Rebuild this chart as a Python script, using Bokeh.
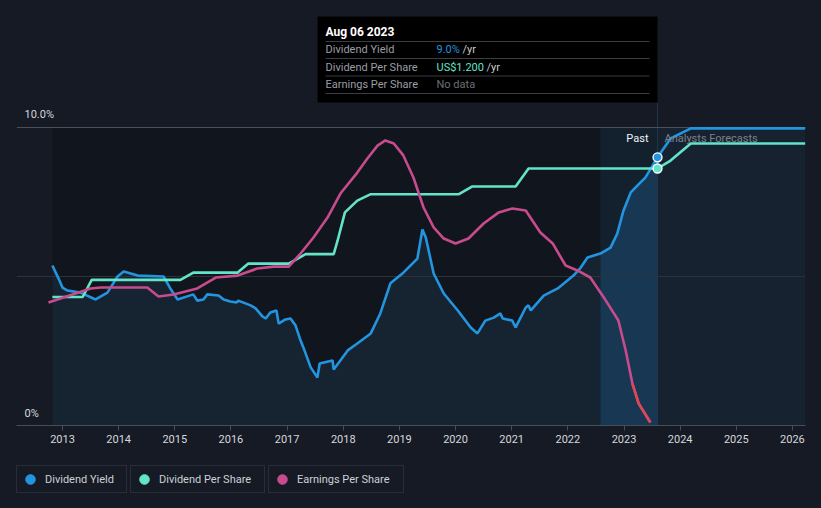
import numpy as np
from bokeh.plotting import figure
from bokeh.layouts import column
from bokeh.models import (Range1d, FixedTicker, Span, Label, BoxAnnotation,
                          Legend, LegendItem, NumeralTickFormatter)
from bokeh.embed import file_html
from bokeh.resources import INLINE

# ---------------- data ----------------
yield_years = [2012.82, 2012.93, 2013.00, 2013.09, 2013.32, 2013.59, 2013.80, 2013.98,
               2014.09, 2014.34, 2014.80, 2014.92, 2015.05, 2015.33, 2015.40, 2015.51,
               2015.58, 2015.78, 2015.87, 2015.99, 2016.10, 2016.13, 2016.35, 2016.44,
               2016.56, 2016.62, 2016.70, 2016.81, 2016.85, 2016.97, 2017.06, 2017.15,
               2017.24, 2017.29, 2017.42, 2017.54, 2017.58, 2017.81, 2017.83, 2018.08,
               2018.25, 2018.49, 2018.66, 2018.84, 2019.07, 2019.32, 2019.41, 2019.47,
               2019.61, 2019.79, 2020.04, 2020.27, 2020.39, 2020.53, 2020.68, 2020.80,
               2020.84, 2021.01, 2021.07, 2021.25, 2021.30, 2021.34, 2021.57, 2021.82,
               2022.10, 2022.23, 2022.35, 2022.58, 2022.76, 2022.88, 2022.99, 2023.12,
               2023.29, 2023.38, 2023.597, 2023.83, 2024.19, 2026.23]
yield_pct = [5.37, 4.93, 4.63, 4.53, 4.46, 4.23, 4.46, 5.00,
             5.17, 5.03, 5.00, 4.60, 4.23, 4.40, 4.19, 4.23,
             4.40, 4.36, 4.23, 4.16, 4.13, 4.19, 4.03, 3.93,
             3.66, 3.59, 3.79, 3.86, 3.42, 3.56, 3.59, 3.36,
             2.85, 2.62, 1.95, 1.61, 2.08, 2.18, 1.88, 2.52,
             2.75, 3.09, 3.76, 4.77, 5.13, 5.60, 6.58, 6.31,
             5.10, 4.43, 3.86, 3.29, 3.09, 3.52, 3.62, 3.76,
             3.59, 3.52, 3.29, 3.96, 4.03, 3.86, 4.36, 4.60,
             5.03, 5.30, 5.64, 5.77, 5.97, 6.44, 7.21, 7.82,
             8.15, 8.32, 9.00, 9.63, 9.97, 9.97]

dps_years = [2012.82, 2013.36, 2013.52, 2015.10, 2015.33, 2016.12, 2016.31, 2017.03,
             2017.33, 2017.83, 2017.90, 2018.03, 2018.25, 2018.49, 2020.06, 2020.30,
             2021.07, 2021.30, 2023.597, 2023.83, 2024.19, 2026.23]
dps_usd = [0.60, 0.60, 0.68, 0.68, 0.714, 0.714, 0.756, 0.756,
           0.80, 0.80, 0.864, 0.995, 1.05, 1.08, 1.08, 1.116,
           1.116, 1.20, 1.20, 1.237, 1.317, 1.317]

eps_years = [2012.75, 2013.50, 2013.68, 2014.51, 2014.71, 2014.98, 2015.40, 2015.73,
             2016.12, 2016.47, 2016.76, 2017.03, 2017.24, 2017.47, 2017.72, 2017.95,
             2018.25, 2018.43, 2018.61, 2018.75, 2018.90, 2019.07, 2019.25, 2019.43,
             2019.61, 2019.79, 2020.00, 2020.23, 2020.50, 2020.77, 2021.01, 2021.25,
             2021.51, 2021.73, 2021.96, 2022.17, 2022.40, 2022.64, 2022.90, 2023.03,
             2023.15, 2023.26, 2023.47]
eps_usd = [0.574, 0.640, 0.644, 0.644, 0.602, 0.612, 0.640, 0.691,
           0.700, 0.733, 0.742, 0.742, 0.803, 0.878, 0.971, 1.083,
           1.181, 1.247, 1.307, 1.331, 1.317, 1.261, 1.158, 1.018,
           0.925, 0.873, 0.850, 0.873, 0.943, 0.995, 1.013, 1.004,
           0.901, 0.850, 0.747, 0.724, 0.691, 0.598, 0.490, 0.350,
           0.196, 0.103, 0.014]

tick_years = list(range(2013, 2027))
series_names = ["Dividend Yield", "Dividend Per Share", "Earnings Per Share"]

now_year = 2023.597          # Aug 06 2023
now_yield = 9.0
now_dps = 1.200
band_start = 2022.58

# ---------------- styling ----------------
BG = "#151a24"
DARK = "#11161e"
AREA = "#162331"
BAND = "#13202e"
BAND_AREA = "#183753"
FORE = "#172231"
BLUE = "#2394df"
TEAL = "#63e4c9"
PINK = "#c74b8d"
RED = "#dc4655"
TXT = "#d5d8dc"
FONT = "Roboto"

W = 821
H_MAIN, H_LEG = 450, 58
FL, FR, FT, FB = 16, 16, 0, 25
FW, FH = W - FL - FR, H_MAIN - FT - FB
PX_PER_YEAR = 56.15
PX_PER_PCT = 29.8
PX_PER_USD = 214.17
X0 = 2013 - (62 - FL) / PX_PER_YEAR
X1 = X0 + FW / PX_PER_YEAR
YMAX = FH / PX_PER_PCT
USDMAX = FH / PX_PER_USD


def dx(px):
    return X0 + (px - FL) / PX_PER_YEAR


def dy(py):
    return (FT + FH - py) / PX_PER_PCT


p = figure(width=W, height=H_MAIN, output_backend="svg", toolbar_location=None,
           x_range=Range1d(X0, X1), y_range=Range1d(0, YMAX),
           y_axis_location=None,
           min_border_left=FL, min_border_right=FR, min_border_top=FT,
           min_border_bottom=FB)
p.extra_y_ranges = {"usd": Range1d(0, USDMAX)}
p.background_fill_color = BG
p.border_fill_color = BG
p.outline_line_color = None
p.grid.visible = False

ax = p.xaxis[0]
ax.ticker = FixedTicker(ticks=tick_years)
ax.formatter = NumeralTickFormatter(format="0")
ax.axis_line_color = "#474d57"
ax.major_tick_line_color = "#474d57"
ax.major_tick_in = 0
ax.major_tick_out = 5
ax.minor_tick_line_color = None
ax.major_label_text_color = TXT
ax.major_label_text_font = FONT
ax.major_label_text_font_size = "11px"
ax.major_label_standoff = 4

# ---------------- background bands ----------------
top_pct = 10
p.quad(left=[yield_years[0]], right=[band_start], bottom=[0], top=[top_pct],
       fill_color=DARK, line_color=None, level="image")
p.quad(left=[band_start], right=[now_year], bottom=[0], top=[top_pct],
       fill_color=BAND, line_color=None, level="image")
p.quad(left=[now_year], right=[X1], bottom=[0], top=[top_pct],
       fill_color=FORE, line_color=None, level="image")

yy = np.array(yield_years)
yp = np.array(yield_pct)
m_past = yy <= band_start + 1e-9
m_band = (yy >= band_start - 1e-9) & (yy <= now_year + 1e-9)
p.varea(x=yy[m_past], y1=0, y2=yp[m_past], fill_color=AREA, level="image")
p.varea(x=yy[m_band], y1=0, y2=yp[m_band], fill_color=BAND_AREA, level="image")

# grid lines
p.add_layout(Span(location=10, dimension="width", line_color="#4a505a",
                  line_width=1, level="underlay"))
p.add_layout(Span(location=5, dimension="width", line_color="#2c323b",
                  line_width=1, level="underlay"))
p.segment(x0=[now_year], x1=[now_year], y0=[0], y1=[dy(102)],
          line_color="#22364a", line_width=1, level="underlay")

# ---------------- series ----------------
p.line(yield_years, yield_pct, line_color=BLUE, line_width=2.6)
p.line(dps_years, dps_usd, y_range_name="usd", line_color=TEAL, line_width=2.6)
p.line(eps_years, eps_usd, y_range_name="usd", line_color=PINK, line_width=2.6)
ey = np.array(eps_years)
ev = np.array(eps_usd)
m_red = ey >= 2023.1
p.line(ey[m_red], ev[m_red], y_range_name="usd", line_color=RED, line_width=2.6)

# hover markers at Aug 06 2023
dps_in_pct = now_dps * PX_PER_USD / PX_PER_PCT
p.segment(x0=[now_year], x1=[now_year], y0=[dps_in_pct], y1=[now_yield],
          line_color=BLUE, line_width=2.5)
p.scatter([now_year], [now_yield], marker="circle", size=9,
          fill_color=BLUE, line_color="white", line_width=1.3)
p.scatter([now_year], [now_dps], y_range_name="usd", marker="circle", size=9,
          fill_color=TEAL, line_color="white", line_width=1.3)

# ---------------- axis-like labels ----------------
p.add_layout(Label(x=dx(24), y=dy(114), text="10.0%", text_color=TXT,
                   text_font=FONT, text_font_size="11px", text_baseline="middle"))
p.add_layout(Label(x=dx(24), y=dy(413), text="0%", text_color=TXT,
                   text_font=FONT, text_font_size="11px", text_baseline="middle"))
p.add_layout(Label(x=dx(648), y=dy(138), text="Past", text_color="#f0f2f4",
                   text_font=FONT, text_font_size="11px", text_baseline="middle",
                   text_align="right"))
p.add_layout(Label(x=dx(664), y=dy(138), text="Analysts Forecasts",
                   text_color="#7c818a", text_font=FONT, text_font_size="11px",
                   text_baseline="middle"))

# ---------------- tooltip ----------------
p.add_layout(BoxAnnotation(left=dx(317), right=dx(657), top=dy(16), bottom=dy(102),
                           fill_color="black", fill_alpha=1, line_color=None))
for sy in [41, 58, 75.5, 93]:
    p.add_layout(BoxAnnotation(left=dx(325), right=dx(649), top=dy(sy - 0.5),
                               bottom=dy(sy + 0.5), fill_color="#3a3d43",
                               fill_alpha=1, line_color=None))
p.add_layout(Label(x=dx(325), y=dy(31), text="Aug 06 2023", text_color="white",
                   text_font=FONT, text_font_size="12px", text_font_style="bold",
                   text_baseline="middle"))
rows = [(49, series_names[0], "9.0%", BLUE, "/yr", 462),
        (66.5, series_names[1], "US$1.200", TEAL, "/yr", 486),
        (84, series_names[2], "No data", "#6b6f76", "", 0)]
for ry, name, val, col, suf, sx in rows:
    p.add_layout(Label(x=dx(325), y=dy(ry), text=name, text_color="#9a9ea5",
                       text_font=FONT, text_font_size="11px", text_baseline="middle"))
    p.add_layout(Label(x=dx(436), y=dy(ry), text=val, text_color=col,
                       text_font=FONT, text_font_size="11px", text_baseline="middle"))
    if suf:
        p.add_layout(Label(x=dx(sx), y=dy(ry), text=suf, text_color="#c8ccd1",
                           text_font=FONT, text_font_size="11px",
                           text_baseline="middle"))

# ---------------- legend (separate strip below the chart) ----------------
q = figure(width=W, height=H_LEG, output_backend="svg", toolbar_location=None,
           x_range=Range1d(0, 1), y_range=Range1d(0, 1),
           x_axis_location=None, y_axis_location=None,
           min_border_left=0, min_border_right=0, min_border_top=0,
           min_border_bottom=0)
q.background_fill_color = BG
q.border_fill_color = BG
q.outline_line_color = None
q.grid.visible = False

leg_colors = [BLUE, TEAL, PINK]
leg_x = [0, 114, 252]
leg_lw = [80, 104, 105]
for name, col, lx, lw in zip(series_names, leg_colors, leg_x, leg_lw):
    # legend proxy: one point placed outside the strip's visible range
    r = q.scatter([-5], [-5], marker="circle", size=9, fill_color=col,
                  line_color=col)
    leg = Legend(items=[LegendItem(label=name, renderers=[r])], location=(lx, 15),
                 orientation="horizontal", background_fill_color=BG,
                 background_fill_alpha=1, border_line_color="#3b4049",
                 border_line_width=1, label_text_color="#cdd1d6",
                 label_text_font=FONT, label_text_font_size="11px",
                 glyph_width=24, glyph_height=24, label_standoff=3,
                 label_width=lw, label_height=12, padding=1, margin=0,
                 spacing=0)
    q.add_layout(leg)

layout = column(p, q, spacing=0)
html = file_html(layout, INLINE)
html = html.replace("<head>", "<head><style>html,body{background:%s;margin:0;}</style>" % BG, 1)
open("out.html", "w").write(html)
